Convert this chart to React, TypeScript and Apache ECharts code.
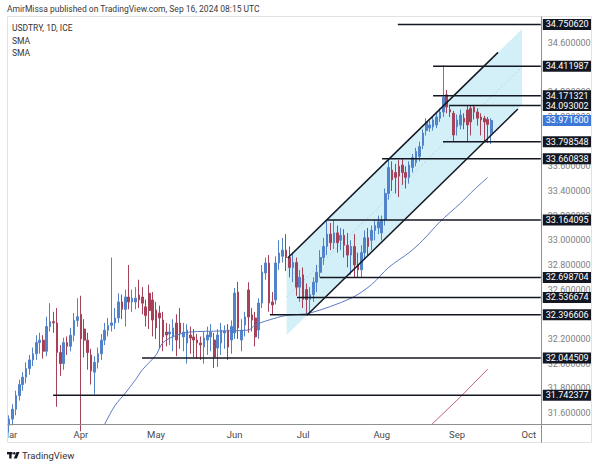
import React, { useEffect, useRef } from 'react';
import * as echarts from 'echarts';

// ---- data ----
const monthStarts = ['2024-03-01', '2024-04-01', '2024-05-01', '2024-06-03', '2024-07-01', '2024-08-01', '2024-09-02', '2024-10-01'];
const monthNames = ['Mar', 'Apr', 'May', 'Jun', 'Jul', 'Aug', 'Sep', 'Oct'];

// [open, close, low, high] daily candles, Mar 1 – Sep 16 2024
const candles: number[][] = [
  [31.50, 31.55, 31.44, 31.58], [31.55, 31.63, 31.50, 31.67], [31.63, 31.74, 31.58, 31.78], [31.74, 31.83, 31.70, 31.87],
  [31.83, 31.89, 31.78, 31.93], [31.89, 31.96, 31.84, 32.01], [31.96, 32.03, 31.91, 32.07], [32.03, 32.08, 31.98, 32.13],
  [32.08, 32.17, 32.03, 32.23], [32.17, 32.19, 32.08, 32.25], [32.19, 32.10, 32.04, 32.23], [32.10, 32.30, 32.06, 32.38],
  [32.30, 32.34, 32.26, 32.49], [32.34, 32.33, 32.25, 32.42], [32.33, 32.09, 31.65, 32.45], [32.09, 32.00, 31.90, 32.15],
  [32.00, 32.17, 31.95, 32.21], [32.17, 32.14, 32.07, 32.22], [32.14, 32.23, 32.10, 32.29], [32.23, 32.35, 32.18, 32.41],
  [32.35, 32.38, 32.30, 32.53],
  [32.40, 32.20, 31.45, 32.55], [32.28, 32.19, 32.05, 32.36], [32.19, 32.09, 31.95, 32.25], [32.07, 31.94, 31.83, 32.12],
  [31.93, 32.01, 31.75, 32.06], [32.01, 32.08, 31.96, 32.13], [32.08, 32.19, 32.03, 32.24], [32.19, 32.27, 32.15, 32.33],
  [32.27, 32.31, 32.22, 32.37], [32.31, 32.33, 32.26, 32.86], [32.33, 32.37, 32.28, 32.45], [32.37, 32.50, 32.33, 32.57],
  [32.50, 32.44, 32.36, 32.56], [32.44, 32.54, 32.30, 32.60], [32.54, 32.50, 32.44, 32.80], [32.50, 32.53, 32.42, 32.60],
  [32.50, 32.53, 32.44, 32.62], [32.556, 32.516, 32.45, 32.68], [32.54, 32.49, 32.40, 32.62], [32.46, 32.39, 32.30, 32.52],
  [32.57, 32.43, 32.28, 32.64], [32.516, 32.353, 32.22, 32.58],
  [32.435, 32.289, 32.20, 32.50], [32.41, 32.37, 32.12, 32.47], [32.353, 32.216, 32.10, 32.42], [32.256, 32.232, 32.14, 32.33],
  [32.24, 32.256, 32.15, 32.32], [32.216, 32.289, 32.10, 32.36], [32.329, 32.191, 32.06, 32.40], [32.329, 32.248, 32.12, 32.45],
  [32.216, 32.256, 32.10, 32.33], [32.167, 32.272, 32.00, 32.32], [32.232, 32.207, 32.08, 32.30], [32.216, 32.191, 32.05, 32.28],
  [32.191, 32.167, 32.04, 32.24], [32.167, 32.151, 32.03, 32.22], [32.134, 32.207, 32.00, 32.26], [32.191, 32.232, 32.07, 32.30],
  [32.216, 32.256, 32.10, 32.32], [32.191, 32.053, 31.964, 32.25], [32.126, 32.232, 31.972, 32.28], [32.167, 32.272, 32.07, 32.33],
  [32.248, 32.264, 32.12, 32.31], [32.272, 32.134, 32.03, 32.32], [32.191, 32.30, 32.08, 32.35],
  [32.248, 32.572, 32.20, 32.613], [32.58, 32.289, 32.20, 32.662], [32.191, 32.272, 32.10, 32.36], [32.313, 32.378, 32.22, 32.42],
  [32.597, 32.378, 32.25, 32.66], [32.394, 32.353, 32.26, 32.45], [32.37, 32.216, 32.14, 32.42], [32.272, 32.491, 32.20, 32.53],
  [32.491, 32.743, 32.45, 32.80], [32.735, 32.816, 32.68, 32.86], [32.816, 32.491, 32.42, 32.88], [32.50, 32.475, 32.40, 32.58],
  [32.516, 32.816, 32.48, 32.87], [32.816, 32.897, 32.76, 33.00], [32.87, 32.92, 32.82, 33.02], [32.92, 32.86, 32.75, 33.05],
  [32.86, 32.78, 32.70, 32.95], [32.78, 32.82, 32.66, 32.90], [32.82, 32.62, 32.55, 32.86], [32.62, 32.70, 32.50, 32.76],
  [32.72, 32.52, 32.45, 32.78], [32.60, 32.52, 32.40, 32.65], [32.52, 32.56, 32.396, 32.62], [32.56, 32.66, 32.50, 32.70],
  [32.66, 32.74, 32.58, 32.80], [32.74, 32.86, 32.70, 32.92], [32.86, 32.95, 32.80, 33.02], [32.95, 33.05, 32.88, 33.16],
  [33.05, 32.98, 32.92, 33.14], [32.98, 33.06, 32.93, 33.164], [33.06, 32.98, 32.90, 33.12], [33.00, 33.04, 32.92, 33.10],
  [33.04, 32.96, 32.86, 33.09], [32.96, 32.88, 32.78, 33.06], [32.88, 32.95, 32.72, 33.00], [32.95, 32.80, 32.70, 33.05],
  [32.80, 32.76, 32.70, 32.90], [32.76, 32.90, 32.70, 32.96], [32.90, 33.02, 32.85, 33.08], [33.02, 32.95, 32.88, 33.10],
  [33.00, 33.08, 32.92, 33.12], [33.08, 33.12, 33.00, 33.16], [33.10, 33.15, 33.05, 33.20],
  [33.06, 33.16, 33.00, 33.20], [33.17, 33.38, 33.12, 33.42], [33.38, 33.59, 33.33, 33.66], [33.57, 33.49, 33.40, 33.64],
  [33.55, 33.51, 33.38, 33.62], [33.60, 33.52, 33.35, 33.65], [33.61, 33.55, 33.45, 33.66], [33.55, 33.51, 33.42, 33.60],
  [33.51, 33.61, 33.46, 33.64], [33.59, 33.67, 33.55, 33.70], [33.63, 33.72, 33.60, 33.75], [33.68, 33.76, 33.64, 33.80],
  [33.77, 33.87, 33.74, 33.90], [33.89, 33.96, 33.85, 33.99], [33.91, 33.935, 33.88, 33.97], [33.92, 33.976, 33.89, 34.00],
  [33.935, 34.00, 33.91, 34.03], [33.99, 34.04, 33.96, 34.07], [34.04, 34.16, 34.00, 34.42], [34.18, 34.08, 34.03, 34.22],
  [34.06, 34.04, 34.00, 34.09], [34.03, 33.854, 33.80, 34.05],
  [33.92, 33.976, 33.85, 34.02], [33.935, 34.016, 33.90, 34.06], [33.99, 33.96, 33.90, 34.03], [34.057, 33.935, 33.80, 34.09],
  [34.07, 33.96, 33.85, 34.09], [34.08, 34.04, 33.98, 34.093], [34.04, 33.99, 33.93, 34.07], [34.00, 33.976, 33.85, 34.03],
  [33.99, 33.96, 33.80, 34.01], [33.98, 33.94, 33.79, 34.00], [33.87, 33.9716, 33.78, 33.99],
];

// SMA read-off points [bar index, value]
const smaFastIdx = [27, 28, 31, 34, 37, 39, 43, 45, 49, 53, 62, 70, 72, 76, 81, 88, 100, 106, 111, 117, 121, 126, 132, 136, 140];
const smaFastVal = [31.45, 31.51, 31.66, 31.76, 31.87, 31.95, 32.07, 32.17, 32.23, 32.256, 32.264, 32.272, 32.313, 32.353, 32.39, 32.41, 32.53, 32.64, 32.78, 32.90, 33.00, 33.15, 33.30, 33.41, 33.51];
const smaSlowIdx = [123, 132, 140];
const smaSlowVal = [31.49, 31.73, 31.956];

// horizontal levels: start bar index, price
const levelStarts = [113.7, 124, 124, 128.7, 126.9, 109.1, 93, 90.9, 84.2, 76.3, 38.9, 12.9];
const levelPrices = [34.750620, 34.411987, 34.171321, 34.093002, 33.798548, 33.660838, 33.164095, 32.698704, 32.536674, 32.396606, 32.044509, 31.742377];
const lastPrice = 33.9716;

// parallel channel [bar index, price]
const channelPoly = [[81.2, 32.848], [150, 34.714], [150, 34.097], [81.2, 32.232]];
const channelMid = [[81.2, 32.54], [150, 34.405]];
const channelUpper = [[81.5, 32.856], [143, 34.524]];
const channelLower = [[87.1, 32.392], [148.8, 34.065]];

// price-scale ticks that are not fully hidden behind a level label
const yTicks = [34.6, 34.2, 34.0, 33.6, 33.4, 33.2, 33.0, 32.8, 32.6, 32.2, 32.0, 31.8, 31.6];

const TOTAL_BARS = 156;
const categories: string[] = (() => {
  const out: string[] = [];
  const d = new Date(Date.UTC(2024, 2, 1));
  while (out.length < TOTAL_BARS) {
    const w = d.getUTCDay();
    if (w !== 0 && w !== 6) out.push(d.toISOString().slice(0, 10));
    d.setUTCDate(d.getUTCDate() + 1);
  }
  return out;
})();

const UP = '#5283c9';
const DOWN = '#a5425a';
const FONT = 'Roboto, "Noto Sans", sans-serif';

export default function App() {
  const ref = useRef<HTMLDivElement>(null);
  useEffect(() => {
    if (!ref.current) return;
    const chart = echarts.init(ref.current, undefined, { renderer: 'svg' });
    const gridLeft = 7.29;
    const gridRight = 59.2;
    const option: any = {
      animation: false,
      backgroundColor: '#ffffff',
      grid: { left: gridLeft, right: gridRight, top: 16, bottom: 44, containLabel: false, outerBoundsMode: 'none' },
      xAxis: [
        {
          type: 'category', data: categories, boundaryGap: true,
          axisLine: { show: false }, axisTick: { show: false }, splitLine: { show: false },
          axisLabel: {
            interval: (_i: number, v: string) => monthStarts.includes(v),
            formatter: (v: string) => monthNames[monthStarts.indexOf(v)] ?? '',
            color: '#4a4a4a', fontSize: 9.5, fontFamily: FONT, margin: 5,
          },
        },
        { type: 'value', min: -0.5, max: TOTAL_BARS - 0.5, show: false },
      ],
      yAxis: { type: 'value', min: 31.51, max: 34.819, position: 'right', show: false, scale: true },
      series: [
        {
          type: 'custom', name: 'channel', xAxisIndex: 1, yAxisIndex: 0, z: 1,
          data: [[0, 0]],
          renderItem: (_p: any, api: any) => {
            const pts = channelPoly.map((c) => api.coord(c));
            const m0 = api.coord(channelMid[0]);
            const m1 = api.coord(channelMid[1]);
            return {
              type: 'group',
              children: [
                { type: 'polygon', shape: { points: pts }, style: { fill: '#d3f0f8', stroke: 'none' } },
                { type: 'line', shape: { x1: m0[0], y1: m0[1], x2: m1[0], y2: m1[1] }, style: { stroke: '#a9cbd8', lineWidth: 0.8, lineDash: [2, 2] } },
              ],
            };
          },
        },
        {
          type: 'candlestick', name: 'USDTRY', xAxisIndex: 0, yAxisIndex: 0, z: 2,
          data: candles, barWidth: '62%',
          itemStyle: { color: UP, color0: DOWN, borderColor: UP, borderColor0: DOWN, borderWidth: 1 },
        },
        {
          type: 'line', name: 'SMA', xAxisIndex: 1, yAxisIndex: 0, z: 3,
          data: smaFastIdx.map((x, k) => [x, smaFastVal[k]]),
          showSymbol: false, symbol: 'none', smooth: 0.3,
          lineStyle: { color: '#5a79c4', width: 1 },
        },
        {
          type: 'line', name: 'SMA', xAxisIndex: 1, yAxisIndex: 0, z: 3,
          data: smaSlowIdx.map((x, k) => [x, smaSlowVal[k]]),
          showSymbol: false, symbol: 'none',
          lineStyle: { color: '#c4627a', width: 1 },
        },
        {
          type: 'line', xAxisIndex: 1, yAxisIndex: 0, z: 4, data: channelUpper,
          showSymbol: false, symbol: 'none', lineStyle: { color: '#131722', width: 1.5 },
        },
        {
          type: 'line', xAxisIndex: 1, yAxisIndex: 0, z: 4, data: channelLower,
          showSymbol: false, symbol: 'none', lineStyle: { color: '#131722', width: 1.5 },
        },
        {
          type: 'custom', name: 'ticks', xAxisIndex: 1, yAxisIndex: 0, z: 5,
          data: yTicks.map((v) => [0, v]),
          renderItem: (params: any, api: any) => {
            const p = api.coord([0, api.value(1)]);
            const cs = params.coordSys;
            return {
              type: 'text', x: cs.x + cs.width + 7, y: p[1],
              style: { text: Number(api.value(1)).toFixed(6), fill: '#808080', font: `9px ${FONT}`, verticalAlign: 'middle', align: 'left' },
            };
          },
        },
        {
          type: 'custom', name: 'levels', xAxisIndex: 1, yAxisIndex: 0, z: 6,
          data: levelStarts.map((s, k) => [s, levelPrices[k]]),
          renderItem: (params: any, api: any) => {
            const p = api.coord([api.value(0), api.value(1)]);
            const cs = params.coordSys;
            const right = cs.x + cs.width;
            return {
              type: 'group',
              children: [
                { type: 'line', shape: { x1: p[0], y1: p[1], x2: right, y2: p[1] }, style: { stroke: '#131722', lineWidth: 1.5 } },
                {
                  type: 'text', x: right + 2, y: p[1],
                  style: {
                    text: Number(api.value(1)).toFixed(6), fill: '#ffffff', backgroundColor: '#131722',
                    padding: [1, 3, 1, 3], font: `9px ${FONT}`, verticalAlign: 'middle', align: 'left',
                  },
                },
              ],
            };
          },
        },
        {
          type: 'custom', name: 'last', xAxisIndex: 1, yAxisIndex: 0, z: 7,
          data: [[0, lastPrice]],
          renderItem: (params: any, api: any) => {
            const p = api.coord([0, api.value(1)]);
            const cs = params.coordSys;
            return {
              type: 'text', x: cs.x + cs.width + 2, y: p[1],
              style: {
                text: Number(api.value(1)).toFixed(6), fill: '#ffffff', backgroundColor: '#3c78d8',
                padding: [1, 3, 1, 3], font: `9px ${FONT}`, verticalAlign: 'middle', align: 'left',
              },
            };
          },
        },
      ],
      graphic: [
        { type: 'rect', shape: { x: 7.5, y: 16.5, width: 584, height: 426 }, style: { fill: 'none', stroke: '#e2e2e2', lineWidth: 1 }, z: 50 },
        { type: 'line', shape: { x1: 7.5, y1: 424.5, x2: 591.5, y2: 424.5 }, style: { stroke: '#8f8f8f', lineWidth: 1 }, z: 50 },
        { type: 'line', shape: { x1: 541.5, y1: 16.5, x2: 541.5, y2: 442.5 }, style: { stroke: '#8f8f8f', lineWidth: 1 }, z: 50 },
        { type: 'rect', shape: { x: 0, y: 426, width: 7, height: 16 }, style: { fill: '#ffffff' }, z: 60 },
        { type: 'text', x: 7, y: 9, style: { text: 'AmirMissa published on TradingView.com, Sep 16, 2024 08:15 UTC', fill: '#3a3a3a', font: `8.5px ${FONT}`, verticalAlign: 'middle' }, z: 60 },
        { type: 'text', x: 12, y: 28, style: { text: 'USDTRY, 1D, ICE', fill: '#333333', font: `8.5px ${FONT}`, verticalAlign: 'middle' }, z: 60 },
        { type: 'text', x: 12, y: 41, style: { text: 'SMA', fill: '#333333', font: `8.5px ${FONT}`, verticalAlign: 'middle' }, z: 60 },
        { type: 'text', x: 12, y: 53, style: { text: 'SMA', fill: '#333333', font: `8.5px ${FONT}`, verticalAlign: 'middle' }, z: 60 },
        { type: 'rect', shape: { x: 7, y: 452, width: 5.5, height: 2.4 }, style: { fill: '#131722' }, z: 60 },
        { type: 'rect', shape: { x: 9.2, y: 452, width: 2.4, height: 6.5 }, style: { fill: '#131722' }, z: 60 },
        { type: 'circle', shape: { cx: 14.3, cy: 453.3, r: 1.3 }, style: { fill: '#131722' }, z: 60 },
        { type: 'polygon', shape: { points: [[16.5, 452], [19.5, 452], [16.8, 458.5], [13.8, 458.5]] }, style: { fill: '#131722' }, z: 60 },
        { type: 'text', x: 22, y: 455.5, style: { text: 'TradingView', fill: '#333333', font: `9.5px ${FONT}`, verticalAlign: 'middle' }, z: 60 },
      ],
    };
    chart.setOption(option);
    return () => chart.dispose();
  }, []);
  return <div ref={ref} style={{ position: 'fixed', left: 0, top: 0, width: 600, height: 468, background: '#fff' }} />;
}
